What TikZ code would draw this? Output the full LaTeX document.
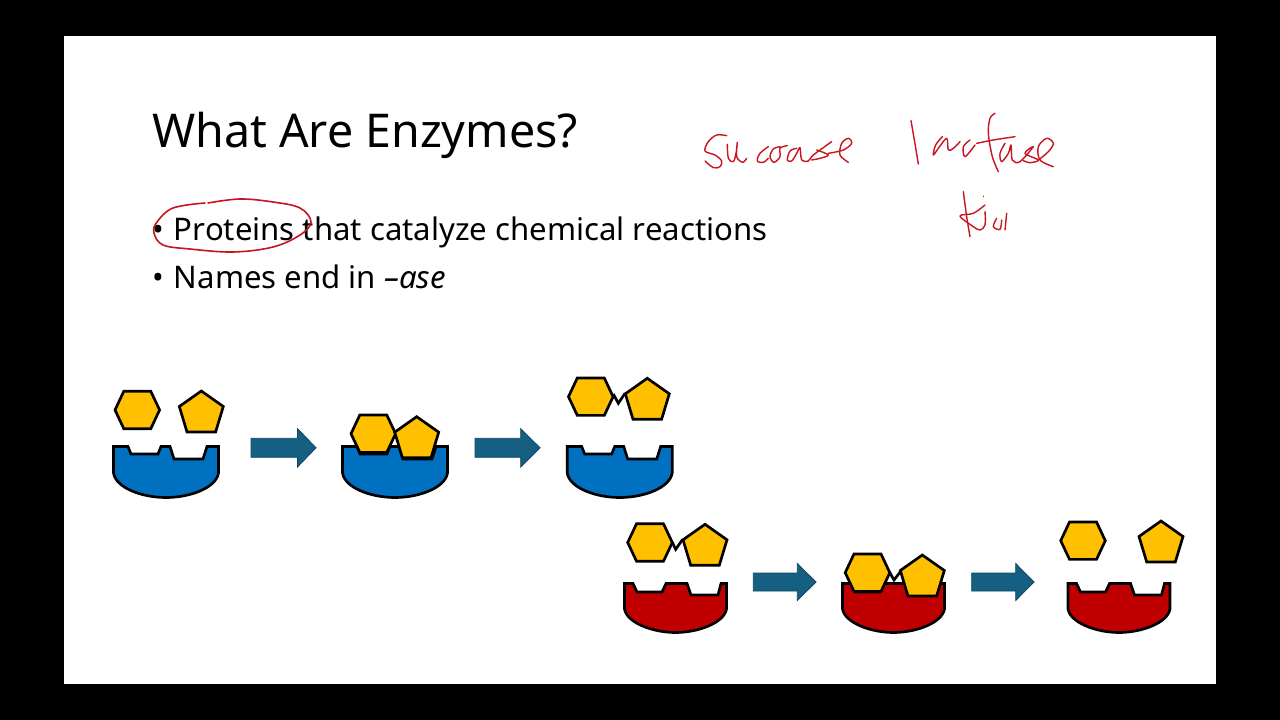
\documentclass[tikz,border=0pt]{standalone}
\usepackage{fontspec}
\setmainfont{Noto Sans}
\definecolor{substrate}{HTML}{FFC000}
\definecolor{enzblue}{HTML}{0070C0}
\definecolor{enzred}{HTML}{C00000}
\definecolor{arrowfill}{HTML}{156082}
\definecolor{arrowedge}{HTML}{0F4761}
\definecolor{ink}{HTML}{C8141E}
\tikzset{
  part/.style={draw=black,line width=2pt,line join=miter,miter limit=4},
  link/.style={draw=black,line width=2pt,line join=miter},
  flow/.style={fill=arrowfill,draw=arrowedge,line width=.6pt},
  pen/.style={draw=ink,line width=1.05pt,line cap=round,line join=round},
  slidetext/.style={anchor=base west,inner sep=0pt,outer sep=0pt,text=black}
}
% hexagon centred on the given point
\newcommand{\hexa}[2]{\path[part,fill=substrate,shift={(#1,#2)}]
  (-22.3,0)--(-13.5,-18.7)--(13.5,-18.7)--(22.3,0)--(13.5,18.7)--(-13.5,18.7)--cycle;}
% pentagon hung from its top vertex
\newcommand{\penta}[2]{\path[part,fill=substrate,shift={(#1,#2)}]
  (0,1)--(22,16.5)--(14.3,42)--(-14.3,42)--(-22,16.5)--cycle;}
% blue enzyme, from its top left corner
\newcommand{\blueenz}[2]{\path[part,fill=enzblue,shift={(#1,#2)}]
  (.5,.5)--(15,.5)--(18,8)--(45,8)--(48,.5)--(57,.5)--(61,13)--(90,13)--(94,.5)--(105.5,.5)--(105.5,27)
  .. controls (103,42) and (77,51.5) .. (53,51.5) .. controls (29,51.5) and (3,42) .. (.5,27)--cycle;}
% red enzyme, from its top left corner
\newcommand{\redenz}[2]{\path[part,fill=enzred,shift={(#1,#2)}]
  (.5,.5)--(9,.5)--(13,9)--(38,9)--(42,.5)--(63,.5)--(67,12)--(94,12)--(97,.5)--(102.5,.5)--(102.5,26)
  .. controls (100,40) and (74,49.5) .. (51.5,49.5) .. controls (29,49.5) and (3,40) .. (.5,26)--cycle;}
% block arrow: shaft start, shaft end, tip, centre line, half shaft, half head
\newcommand{\blockarrow}[6]{\path[flow]
  (#1,#4-#5)--(#2,#4-#5)--(#2,#4-#6)--(#3,#4)--(#2,#4+#6)--(#2,#4+#5)--(#1,#4+#5)--cycle;}
\begin{document}
\begin{tikzpicture}[x=.75pt,y=-.75pt]
\useasboundingbox (0,0) rectangle (1280,720);
\fill[black] (0,0) rectangle (1280,720);
\fill[white] (64,36) rectangle (1216,684);

\node[slidetext,font=\fontsize{34.9pt}{40pt}\selectfont] (title) at (152,148) {What Are Enzymes?};
\node[slidetext,font=\fontsize{23.35pt}{28pt}\selectfont] (lineone) at (152,240) {\makebox[16.5pt][l]{•}Proteins that catalyze chemical reactions};
\node[slidetext,font=\fontsize{23.35pt}{28pt}\selectfont] (linetwo) at (152,288) {\makebox[16.5pt][l]{•}Names end in \textit{–ase}};

% upper row
\blueenz{113}{446}\hexa{137.3}{410}\penta{201.3}{390}
\blockarrow{251}{297.5}{316}{447.8}{9.5}{19.2}
\blueenz{342}{446}\hexa{373.3}{433.7}\penta{416.7}{415.7}
\blockarrow{475}{520.7}{540}{447.8}{9.5}{19.2}
\blueenz{566.7}{446}
\draw[link] (613.3,394)--(618.3,403.3)--(625,393.3);
\hexa{590.8}{396.7}\penta{647.3}{377.3}

% lower row
\redenz{624}{583}
\draw[link] (672.3,542.3)--(675.7,549.3)--(682.7,539.3);
\hexa{650}{542.5}\penta{705}{523.3}
\blockarrow{753.3}{797.3}{816}{582}{9}{18.5}
\redenz{842}{583}
\draw[link] (889.3,571.7)--(894,580)--(901.7,570);
\hexa{867.5}{572.7}\penta{922.3}{554}
\blockarrow{971.7}{1015.7}{1034}{582}{9}{18.5}
\redenz{1067.5}{583}\hexa{1083}{540.7}\penta{1161}{520}

% ring drawn by hand round the first word
\draw[pen,line width=1.2pt] plot[smooth,tension=.6] coordinates {
 (205,203) (173,208) (157,222) (154,233) (163,245) (190,249) (233,252) (273,247) (300,235) (311,222) (300,208) (273,202) (240,199) (208,203)};

% handwritten "Sucrase"
\begin{scope}[shift={(700,125)},x=.25pt,y=-.25pt]
\draw[pen] plot[smooth,tension=.55] coordinates {(80,32) (50,30) (25,50) (15,78) (45,90) (65,108) (60,125) (40,128) (15,108)};
\draw[pen] plot[smooth,tension=.55] coordinates {(82,58) (85,100) (100,110) (108,85) (112,52) (110,95) (128,112) (140,100)};
\draw[pen] plot[smooth,tension=.55] coordinates {(205,65) (180,85) (172,108) (190,112) (205,100)};
\draw[pen] plot[smooth,tension=.55] coordinates {(240,65) (220,72) (210,95) (222,112) (240,95) (240,70) (262,62)};
\draw[pen] plot[smooth,tension=.55] coordinates {(290,70) (270,78) (262,105) (275,108) (290,85) (300,68) (305,105) (325,108) (340,90) (395,50)};
\draw[pen] plot[smooth,tension=.55] coordinates {(350,75) (385,90) (360,100) (335,105)};
\draw[pen] plot[smooth,tension=.55] coordinates {(385,85) (430,75) (455,55) (445,40) (425,55) (420,90) (445,112)};
\end{scope}
% handwritten "lactase" and the start of a third word beneath it
\begin{scope}[shift={(905,110)},x=.25pt,y=-.25pt]
\draw[pen] plot[smooth,tension=.55] coordinates {(18,32) (28,90) (40,162)};
\draw[pen] plot[smooth,tension=.55] coordinates {(112,80) (92,105) (85,135) (100,115) (125,85) (130,120) (145,115) (165,95)};
\draw[pen] plot[smooth,tension=.55] coordinates {(195,90) (175,110) (180,140) (210,105)};
\draw[pen] plot[smooth,tension=.55] coordinates {(270,10) (255,25) (250,70) (262,140) (280,185)};
\draw[pen] plot[smooth,tension=.55] coordinates {(215,100) (265,90) (330,80)};
\draw[pen] plot[smooth,tension=.55] coordinates {(300,100) (285,130) (290,155) (310,130) (318,105) (322,150) (345,155) (385,110) (360,130) (400,150) (375,158) (355,152)};
\draw[pen] plot[smooth,tension=.55] coordinates {(400,150) (430,125) (445,100) (425,85) (400,110) (405,150) (445,170)};
\draw[pen] plot[smooth,tension=.55] coordinates {(175,245) (185,320) (195,380)};
\draw[pen] plot[smooth,tension=.55] coordinates {(240,285) (205,310) (165,318) (205,350) (225,360) (240,345) (240,305)};
\draw[pen,line width=.7pt] (235,258)--(236,260);
\draw[pen] plot[smooth,tension=.55] coordinates {(275,325) (265,350) (285,358) (290,330)};
\draw[pen] plot[smooth,tension=.55] coordinates {(305,310) (300,360)};
\end{scope}
\end{tikzpicture}
\end{document}
